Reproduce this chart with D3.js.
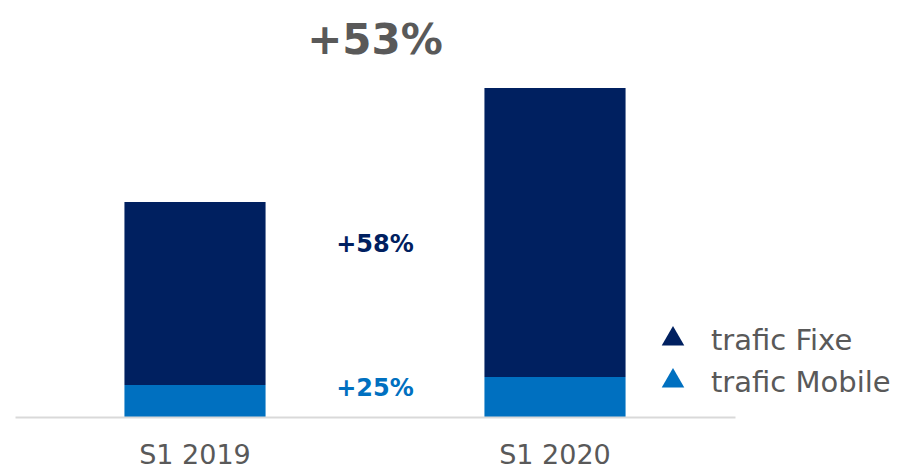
<!DOCTYPE html>
<html>
<head>
<meta charset="utf-8">
<title>Trafic S1</title>
<script src="https://cdn.jsdelivr.net/npm/d3@7"></script>
<style>
  body { margin: 0; background: #fff; }
  text { font-family: "DejaVu Sans", sans-serif; }
</style>
</head>
<body>
<div id="chart"></div>
<script>
// data (relative units)
var periods = ["S1 2019", "S1 2020"];
var mobile = [32, 40];
var fixe = [183, 289];
var seriesNames = ["trafic Fixe", "trafic Mobile"];
var growthTotal = "+53%";
var growthFixe = "+58%";
var growthMobile = "+25%";

var colors = { fixe: "#002060", mobile: "#0070C0" };
var grey = "#595959";

var width = 907, height = 472;

var svg = d3.select("#chart").append("svg")
    .attr("width", width)
    .attr("height", height);

var x = d3.scaleBand()
    .domain(periods)
    .range([15, 735])
    .paddingInner(0.608)
    .paddingOuter(0.304);

var y = d3.scaleLinear()
    .domain([0, 329])
    .range([417, 88]);

var rows = periods.map(function(p, i) {
    return { period: p, mobile: mobile[i], fixe: fixe[i] };
});
var stacked = d3.stack().keys(["mobile", "fixe"])(rows);

svg.selectAll("g.layer")
    .data(stacked)
  .enter().append("g")
    .attr("class", "layer")
    .attr("fill", function(d) { return colors[d.key]; })
  .selectAll("rect")
    .data(function(d) { return d; })
  .enter().append("rect")
    .attr("x", function(d) { return x(d.data.period); })
    .attr("y", function(d) { return y(d[1]); })
    .attr("width", x.bandwidth())
    .attr("height", function(d) { return y(d[0]) - y(d[1]); });

// baseline axis
var xAxis = svg.append("g")
    .attr("transform", "translate(0," + y(0) + ")")
    .call(d3.axisBottom(x).tickSize(0).tickPadding(28));
xAxis.select(".domain").attr("stroke", "#d9d9d9").attr("stroke-width", 2);
xAxis.selectAll("text")
    .attr("fill", grey)
    .style("font-size", "27px")
    .style("font-family", "'DejaVu Sans', sans-serif");

// growth labels
var mid = (x(periods[0]) + x.bandwidth() + x(periods[1])) / 2;

svg.append("text")
    .attr("x", mid)
    .attr("y", 54)
    .attr("text-anchor", "middle")
    .attr("fill", grey)
    .style("font-size", "42px")
    .style("font-weight", "bold")
    .text(growthTotal);

svg.append("text")
    .attr("x", mid)
    .attr("y", 252)
    .attr("text-anchor", "middle")
    .attr("fill", colors.fixe)
    .style("font-size", "24px")
    .style("font-weight", "bold")
    .text(growthFixe);

svg.append("text")
    .attr("x", mid)
    .attr("y", 396)
    .attr("text-anchor", "middle")
    .attr("fill", colors.mobile)
    .style("font-size", "24px")
    .style("font-weight", "bold")
    .text(growthMobile);

// legend
var legend = svg.append("g").attr("transform", "translate(673,0)");
var legendY = [339, 381];
var legendColors = [colors.fixe, colors.mobile];

var item = legend.selectAll("g")
    .data(seriesNames)
  .enter().append("g")
    .attr("transform", function(d, i) { return "translate(0," + legendY[i] + ")"; });

item.append("path")
    .attr("d", d3.symbol().type(d3.symbolTriangle).size(220))
    .attr("fill", function(d, i) { return legendColors[i]; });

item.append("text")
    .attr("x", 38)
    .attr("y", 11)
    .attr("fill", grey)
    .style("font-size", "29px")
    .text(function(d) { return d; });
</script>
</body>
</html>
